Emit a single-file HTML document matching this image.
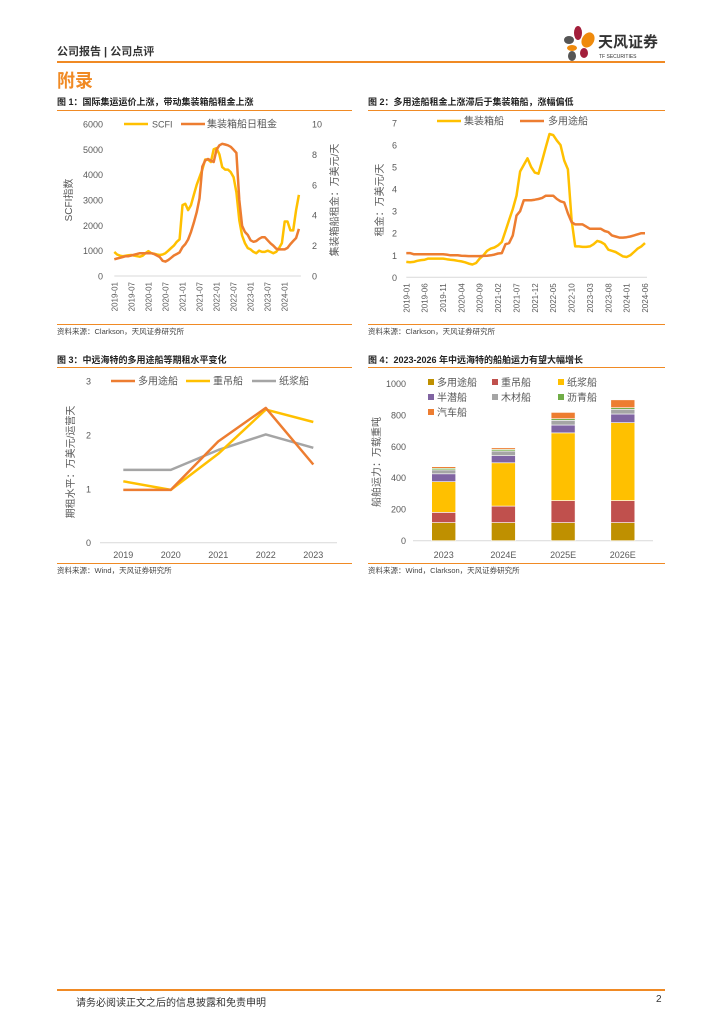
<!DOCTYPE html>
<html><head><meta charset="utf-8">
<style>
body{margin:0;background:#fff;}
#page{position:relative;width:724px;height:1024px;overflow:hidden;font-family:"Liberation Sans","Noto Sans CJK SC",sans-serif;}
.t{position:absolute;white-space:nowrap;}
.hl{position:absolute;height:2px;background:#f08a24;}
.ft{font-size:9px;font-weight:bold;color:#222;}
.src{font-size:7.5px;color:#444;}
svg text{font-family:"Liberation Sans","Noto Sans CJK SC",sans-serif;fill:#595959;}
</style></head>
<body>
<div id="page">
<div class="t" style="left:57px;top:43px;font-size:11px;font-weight:bold;color:#333;">公司报告 | 公司点评</div>
<div class="hl" style="left:57px;top:61px;width:608px;"></div>
<svg style="position:absolute;left:560px;top:24px" width="110" height="38">
<ellipse cx="18" cy="9" rx="4" ry="7" fill="#a31f3b"/>
<ellipse cx="9" cy="16" rx="5" ry="4" fill="#555"/>
<ellipse cx="28" cy="16" rx="6" ry="8" fill="#ef8a0c" transform="rotate(30 28 16)"/>
<ellipse cx="12" cy="24" rx="5" ry="3" fill="#ef8a0c"/>
<ellipse cx="24" cy="29" rx="4" ry="5" fill="#a31f3b"/>
<ellipse cx="12" cy="32" rx="4" ry="5" fill="#555"/>
<text x="38" y="23" style="font-size:15px;font-weight:bold;fill:#333">天风证券</text>
<text x="39" y="34" style="font-size:5px;fill:#333">TF SECURITIES</text>
</svg>
<div class="t" style="left:57px;top:67px;font-size:18px;font-weight:bold;color:#f08a24;">附录</div>

<div class="t ft" style="left:57px;top:95px;">图 1：国际集运运价上涨，带动集装箱船租金上涨</div>
<div class="hl" style="left:57px;top:110px;width:295px;height:1px;"></div>
<div class="t ft" style="left:368px;top:95px;">图 2：多用途船租金上涨滞后于集装箱船，涨幅偏低</div>
<div class="hl" style="left:368px;top:110px;width:297px;height:1px;"></div>
<div class="hl" style="left:57px;top:324px;width:295px;height:1px;"></div>
<div class="hl" style="left:368px;top:324px;width:297px;height:1px;"></div>
<div class="t src" style="left:57px;top:326px;">资料来源：Clarkson，天风证券研究所</div>
<div class="t src" style="left:368px;top:326px;">资料来源：Clarkson，天风证券研究所</div>

<div class="t ft" style="left:57px;top:353px;">图 3：中远海特的多用途船等期租水平变化</div>
<div class="hl" style="left:57px;top:367px;width:295px;height:1px;"></div>
<div class="t ft" style="left:368px;top:353px;">图 4：2023-2026 年中远海特的船舶运力有望大幅增长</div>
<div class="hl" style="left:368px;top:367px;width:297px;height:1px;"></div>
<div class="hl" style="left:57px;top:563px;width:295px;height:1px;"></div>
<div class="hl" style="left:368px;top:563px;width:297px;height:1px;"></div>
<div class="t src" style="left:57px;top:565px;">资料来源：Wind，天风证券研究所</div>
<div class="t src" style="left:368px;top:565px;">资料来源：Wind，Clarkson，天风证券研究所</div>

<div class="hl" style="left:57px;top:989px;width:608px;"></div>
<div class="t" style="left:76px;top:994px;font-size:10px;color:#333;">请务必阅读正文之后的信息披露和免责申明</div>
<div class="t" style="left:656px;top:994px;font-size:10px;color:#333;">2</div>

<svg id="chart" style="position:absolute;left:0;top:0" width="724" height="1024"></svg>
</div>
<script>
// ---------- Chart 1 data ----------
const c1Scfi = [950,850,800,780,800,820,830,800,780,760,800,900,
980,900,880,850,830,850,900,1000,1100,1200,1350,1450,
2800,2850,2600,2800,3200,3600,3900,4200,4600,4600,4500,5000,
5050,4800,4300,4200,4200,4100,3900,3300,2200,1600,1300,1100,
1050,950,900,1000,950,950,1000,950,900,950,1100,1300,
2150,2150,1800,1800,2600,3200];
const c1Rent = [1.1,1.15,1.2,1.25,1.3,1.3,1.35,1.4,1.45,1.5,1.5,1.5,
1.5,1.5,1.45,1.35,1.25,1.0,0.95,1.05,1.2,1.35,1.45,1.55,
1.9,2.1,2.4,2.9,3.5,4.2,5.1,7.2,7.6,7.7,7.6,7.5,
8.3,8.6,8.7,8.65,8.6,8.5,8.3,8.1,5.0,3.3,2.9,2.7,
2.35,2.25,2.3,2.45,2.55,2.55,2.35,2.15,2.0,1.8,1.75,1.75,
1.75,1.85,2.1,2.3,2.5,3.1];
const c1LeftTicks = [0,1000,2000,3000,4000,5000,6000];
const c1RightTicks = [0,2,4,6,8,10];
const c1XLabels = ["2019-01","2019-07","2020-01","2020-07","2021-01","2021-07","2022-01","2022-07","2023-01","2023-07","2024-01"];
// ---------- Chart 2 data ----------
const c2Container = [0.7,0.68,0.7,0.75,0.78,0.8,0.85,0.85,0.85,0.85,0.85,0.82,
0.8,0.78,0.75,0.72,0.68,0.62,0.58,0.65,0.85,1.0,1.2,1.3,
1.35,1.45,1.6,2.1,2.6,3.1,3.7,4.8,5.1,5.4,5.0,4.75,
4.7,5.3,5.9,6.5,6.45,6.2,6.0,5.3,4.9,2.6,1.4,1.4,
1.38,1.38,1.4,1.5,1.65,1.6,1.5,1.25,1.2,1.15,1.05,0.95,
0.92,1.0,1.15,1.3,1.4,1.55];
const c2Multi = [1.1,1.1,1.05,1.05,1.05,1.05,1.05,1.05,1.05,1.05,1.05,1.03,
1.0,1.0,1.0,0.98,0.97,0.96,0.96,0.96,0.96,0.97,0.98,1.0,
1.03,1.08,1.1,1.5,1.55,1.9,2.8,3.0,3.5,3.5,3.5,3.52,
3.55,3.6,3.7,3.7,3.7,3.55,3.45,3.4,2.9,2.5,2.4,2.4,
2.4,2.3,2.2,2.2,2.2,2.2,2.1,2.05,1.9,1.85,1.8,1.8,
1.82,1.85,1.9,1.95,2.0,2.0];
const c2YTicks = [0,1,2,3,4,5,6,7];
const c2XLabels = ["2019-01","2019-06","2019-11","2020-04","2020-09","2021-02","2021-07","2021-12","2022-05","2022-10","2023-03","2023-08","2024-01","2024-06"];
// ---------- Chart 3 data ----------
const c3Years = ["2019","2020","2021","2022","2023"];
const c3Multi = [0.98,0.98,1.88,2.5,1.45];
const c3Heavy = [1.14,0.98,1.65,2.47,2.24];
const c3Pulp = [1.35,1.35,1.72,2.01,1.76];
const c3YTicks = [0,1,2,3];
// ---------- Chart 4 data ----------
const c4Cats = ["2023","2024E","2025E","2026E"];
const c4Names = ["多用途船","重吊船","纸浆船","半潜船","木材船","沥青船","汽车船"];
const c4Multi = [115,115,115,115];
const c4Heavy = [65,105,140,140];
const c4Pulp = [195,275,430,495];
const c4Semi = [50,45,50,55];
const c4Timber = [25,30,30,30];
const c4Asphalt = [10,10,10,10];
const c4Car = [10,10,40,50];
const c4YTicks = [0,200,400,600,800,1000];

const NS="http://www.w3.org/2000/svg";
const svg=document.getElementById('chart');
function mk(tag,attrs,parent){const e=document.createElementNS(NS,tag);for(const k in attrs)e.setAttribute(k,attrs[k]);(parent||svg).appendChild(e);return e;}
function txt(x,y,s,size,anchor,parent,rot){const e=mk('text',{x:x,y:y,'font-size':size,'text-anchor':anchor||'start'},parent);if(rot)e.setAttribute('transform','rotate('+rot+' '+x+' '+y+')');e.textContent=s;return e;}
function linePath(vals,xf,yf){return vals.map((v,i)=>(i?'L':'M')+xf(i).toFixed(1)+' '+yf(v).toFixed(1)).join(' ');}

// ===== Chart 1 =====
(function(){
  const g=mk('g',{});
  
  
  const x0=114.3,dx=2.84,yTop=124,yBot=276;
  const xf=i=>x0+i*dx;
  const yl=v=>yBot-(v/6000)*(yBot-yTop);
  const yr=v=>yBot-(v/10)*(yBot-yTop);
  mk('line',{x1:x0,y1:yBot,x2:x0+65*dx+2,y2:yBot,stroke:'#d9d9d9','stroke-width':1},g);
  c1LeftTicks.forEach(v=>{const t=txt(103,yl(v)+3.5,String(v),9,'end',g);});
  c1RightTicks.forEach(v=>{const t=txt(312,yr(v)+3.5,String(v),9,'start',g);});
  c1XLabels.forEach((s,k)=>{const x=xf(k*6)+3;const t=txt(x,yBot+6,s,8,'end',g,-90);});
  const ya=txt(72,200,'SCFI指数',10,'middle',g,-90);
  
  const yb=txt(338,200,'集装箱船租金：万美元/天',10,'middle',g,-90);
  
  const p1=mk('path',{d:linePath(c1Scfi,xf,yl),fill:'none',stroke:'#ffc000','stroke-width':2.5,'stroke-linejoin':'round'},g);
  
  const p2=mk('path',{d:linePath(c1Rent,xf,yr),fill:'none',stroke:'#ed7d31','stroke-width':2.5,'stroke-linejoin':'round'},g);
  
  mk('line',{x1:124,y1:124,x2:148,y2:124,stroke:'#ffc000','stroke-width':2.5},g);
  const l1=txt(152,127.5,'SCFI',9,'start',g);
  mk('line',{x1:181,y1:124,x2:205,y2:124,stroke:'#ed7d31','stroke-width':2.5},g);
  const l2=txt(207,127.5,'集装箱船日租金',10,'start',g);
})();

// ===== Chart 2 =====
(function(){
  const g=mk('g',{});
  
  
  const x0=406.3,dx=(645-406.3)/65,yTop=123,yBot=277.3;
  const xf=i=>x0+i*dx;
  const yf=v=>yBot-(v/7)*(yBot-yTop);
  mk('line',{x1:x0,y1:yBot,x2:647,y2:yBot,stroke:'#d9d9d9','stroke-width':1},g);
  c2YTicks.forEach(v=>{const t=txt(397,yf(v)+3.5,String(v),9,'end',g);});
  c2XLabels.forEach((s,k)=>{const x=xf(k*5)+3;const t=txt(x,yBot+6,s,8,'end',g,-90);});
  const ya=txt(383,200,'租金：万美元/天',10,'middle',g,-90);
  
  const p1=mk('path',{d:linePath(c2Container,xf,yf),fill:'none',stroke:'#ffc000','stroke-width':2.5,'stroke-linejoin':'round'},g);
  
  const p2=mk('path',{d:linePath(c2Multi,xf,yf),fill:'none',stroke:'#ed7d31','stroke-width':2.5,'stroke-linejoin':'round'},g);
  
  mk('line',{x1:437,y1:121,x2:461,y2:121,stroke:'#ffc000','stroke-width':2.5},g);
  const l1=txt(464,124.5,'集装箱船',10,'start',g);
  mk('line',{x1:520,y1:121,x2:544,y2:121,stroke:'#ed7d31','stroke-width':2.5},g);
  const l2=txt(548,124.5,'多用途船',10,'start',g);
})();

// ===== Chart 3 =====
(function(){
  const g=mk('g',{});
  
  
  const x0=123.3,dx=47.5,yTop=381,yBot=542.7;
  const xf=i=>x0+i*dx;
  const yf=v=>yBot-(v/3)*(yBot-yTop);
  mk('line',{x1:100,y1:yBot,x2:337,y2:yBot,stroke:'#d9d9d9','stroke-width':1},g);
  c3YTicks.forEach(v=>{const t=txt(91,yf(v)+3.5,String(v),9,'end',g);});
  c3Years.forEach((s,i)=>{const t=txt(xf(i),558,s,9,'middle',g);});
  const ya=txt(74,462,'期租水平：万美元/运营天',10,'middle',g,-90);
  
  [[c3Pulp,'#a5a5a5','pulp-line'],[c3Heavy,'#ffc000','heavy-lift-line'],[c3Multi,'#ed7d31','multipurpose-line']].forEach(s=>{
    const p=mk('path',{d:linePath(s[0],xf,yf),fill:'none',stroke:s[1],'stroke-width':2.5,'stroke-linejoin':'round'},g);
    
    
  });
  const leg=[['多用途船','#ed7d31',111],['重吊船','#ffc000',186],['纸浆船','#a5a5a5',252]];
  leg.forEach(l=>{mk('line',{x1:l[2],y1:381,x2:l[2]+24,y2:381,stroke:l[1],'stroke-width':2.5},g);
    const t=txt(l[2]+27,384.5,l[0],10,'start',g);});
})();

// ===== Chart 4 =====
(function(){
  const g=mk('g',{});
  
  
  const yTop=383.3,yBot=540.7,bw=24;
  const xf=i=>443.7+i*59.7;
  const yf=v=>yBot-(v/1000)*(yBot-yTop);
  mk('line',{x1:413,y1:yBot,x2:653,y2:yBot,stroke:'#d9d9d9','stroke-width':1},g);
  c4YTicks.forEach(v=>{const t=txt(406,yf(v)+3.5,String(v),9,'end',g);});
  c4Cats.forEach((s,i)=>{const t=txt(xf(i),558,s,9,'middle',g);});
  const ya=txt(380,462,'船舶运力：万载重吨',10,'middle',g,-90);
  
  const series=[c4Multi,c4Heavy,c4Pulp,c4Semi,c4Timber,c4Asphalt,c4Car];
  const colors=['#bf9000','#c0504d','#ffc000','#8064a2','#a5a5a5','#70ad47','#ed7d31'];
  c4Cats.forEach((c,i)=>{
    let acc=0;
    series.forEach((s,k)=>{
      const y1=yf(acc+s[i]),y0=yf(acc);
      const r=mk('rect',{x:xf(i)-bw/2,y:y1,width:bw,height:Math.max(0,y0-y1),fill:colors[k],stroke:'#fff','stroke-width':0.6},g);
      
      
      acc+=s[i];
    });
  });
  const pos=[[428,383],[492,383],[558,383],[428,398],[492,398],[558,398],[428,413]];
  c4Names.forEach((n,k)=>{
    mk('rect',{x:pos[k][0],y:pos[k][1]-4,width:6,height:6,fill:colors[k]},g);
    const t=txt(pos[k][0]+9,pos[k][1]+3,n,10,'start',g);
    
    
  });
})();
</script>
</body></html>
